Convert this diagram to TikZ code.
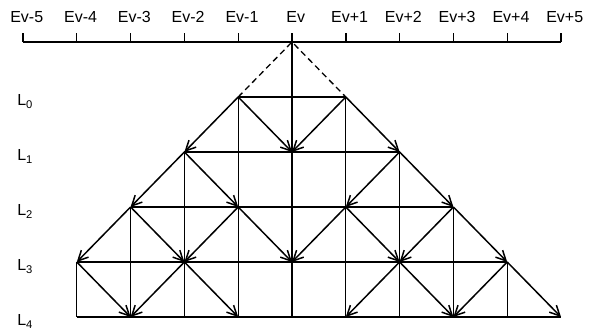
\documentclass[tikz,border=0pt]{standalone}
\usepackage{fontspec}
\setmainfont{Liberation Sans}
\usetikzlibrary{arrows.meta}

\begin{document}
\begin{tikzpicture}[
  x=53.8pt, y=-55pt,
  font=\fontsize{16}{18}\selectfont,
  >={Straight Barb[length=10pt,width=10pt]},
  axisline/.style={line width=1.4pt},
  rowline/.style={line width=2pt},
  colline/.style={line width=1.3pt},
  guide/.style={dashed, dash pattern=on 6pt off 4pt, line width=1.3pt},
  arr/.style={->, line width=1.5pt},
  evlab/.style={inner sep=0pt, anchor=base},
  levlab/.style={inner sep=0pt, anchor=west},
]
\useasboundingbox (-5.4275,-1.7636) rectangle (5.5948,4.2909);
% grid points and axis points
\foreach \i in {-5,...,5} {
  \coordinate (e\i) at (\i,-1);
  \foreach \k in {0,...,4}
    \coordinate (p\i-\k) at (\i,\k);
}
% energy axis
\draw[axisline] (e-5) -- (e5);
\foreach \i/\t in {-5/Ev-5,-4/Ev-4,-3/Ev-3,-2/Ev-2,-1/Ev-1,0/Ev,1/Ev+1,2/Ev+2,3/Ev+3,4/Ev+4,5/Ev+5} {
  \node[evlab] (t\i) at (\i+0.07,-1.36) {\t};
  \draw[axisline] (e\i) -- ++(0,-0.17);
}
% levels
\foreach \k in {0,...,4}
  \node[levlab] (l\k) at (-5.11,\k+0.08) {L\textsubscript{\k}};
% cone from Ev
\draw[guide] (p-1-0) -- (e0) -- (p1-0);
\draw[colline] (e0) -- (p0-4);
% rows
\draw[rowline] (p-1-0) -- (p1-0);
\draw[rowline] (p-2-1) -- (p2-1);
\draw[rowline] (p-3-2) -- (p3-2);
\draw[rowline] (p-4-3) -- (p4-3);
\draw[rowline] (p-4-4) -- (p5-4);
% columns
\foreach \i/\k in {-1/0,1/0,-2/1,2/1,-3/2,3/2,-4/3,4/3}
  \draw[colline] (p\i-\k) -- (p\i-4);
% transitions
\foreach \a/\b in {-1-0/-2-1,-1-0/0-1,1-0/0-1,1-0/2-1,
                   -2-1/-3-2,-2-1/-1-2,2-1/1-2,2-1/3-2,
                   -3-2/-4-3,-3-2/-2-3,-1-2/-2-3,-1-2/0-3,1-2/0-3,1-2/2-3,3-2/2-3,3-2/4-3,
                   -4-3/-3-4,-2-3/-3-4,-2-3/-1-4,2-3/1-4,2-3/3-4,4-3/3-4,4-3/5-4}
  \draw[arr] (p\a) -- (p\b);
\end{tikzpicture}
\end{document}
